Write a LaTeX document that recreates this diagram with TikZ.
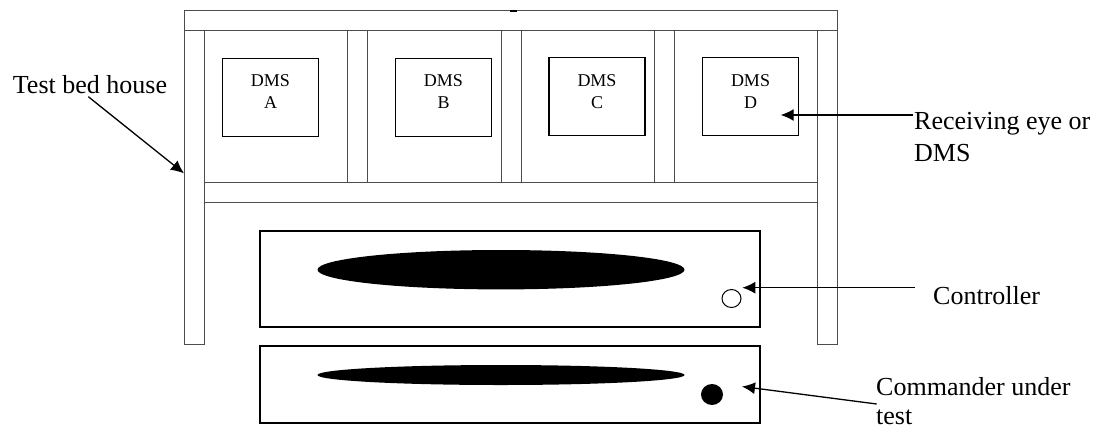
\documentclass[tikz,border=0pt]{standalone}
\usepackage{fontspec}
\setmainfont{Liberation Serif}
\usetikzlibrary{arrows.meta,calc,shapes.geometric}
\begin{document}
\begin{tikzpicture}[x=1pt,y=-1pt,
  frame/.style={draw=black!70,line width=0.9pt},
  dmsbox/.style={draw=black,line width=1.4pt,minimum width=96pt,minimum height=78pt,inner sep=0pt},
  unitbox/.style={draw=black,line width=1.3pt,minimum width=500pt,inner sep=0pt},
  dmstext/.style={inner sep=0pt,align=center,font=\fontsize{18}{22}\selectfont},
  lbl/.style={inner sep=0pt,align=left,font=\fontsize{26}{32}\selectfont},
  lbltight/.style={inner sep=0pt,align=left,font=\fontsize{26}{29}\selectfont},
  pointer/.style={line width=1.3pt,-{Latex[length=13pt,width=12pt]}}]
\useasboundingbox (0,0) rectangle (1097,429);
% test bed house frame
\draw[frame] (184,10.7) rectangle (837,30);
\draw[frame] (184,30) rectangle (204,344.5);
\draw[frame] (817,30) rectangle (837,344.5);
\draw[frame] (204,182) rectangle (817,202);
\draw[frame] (347,30) rectangle (367,182);
\draw[frame] (501,30) rectangle (521,182);
\draw[frame] (654,30) rectangle (674,182);
\draw[line width=2pt] (510,10.7) -- (517,10.7);
% DMS boxes
\node[dmsbox] (dA) at (270.5,97.5) {};
\node[dmsbox] (dB) at (443.5,97.5) {};
\node[dmsbox] (dC) at (597,96.5) {};
\node[dmsbox] (dD) at (750.5,96.5) {};
\node[dmstext,anchor=north] (tA) at (270.5,74) {DMS\\A};
\node[dmstext,anchor=north] (tB) at (443.5,74) {DMS\\B};
\node[dmstext,anchor=north] (tC) at (597,74) {DMS\\C};
\node[dmstext,anchor=north] (tD) at (750.5,74) {DMS\\D};
% controller and commander
\node[unitbox,minimum height=96pt] (ctrl) at (510,279) {};
\node[unitbox,minimum height=77pt] (cmd) at (510,384.5) {};
\fill (501,269.7) ellipse [x radius=183.5pt, y radius=19.7pt];
\fill (501,375) ellipse [x radius=183.5pt, y radius=10pt];
\node[draw,line width=1pt,ellipse,minimum width=19pt,minimum height=18pt,inner sep=0pt] (knob) at (731.5,298.5) {};
\node[fill,ellipse,minimum width=22pt,minimum height=21pt,inner sep=0pt] (dot) at (712,394.5) {};
% labels (base anchor of a two-line node is its last line)
\node[lbl,anchor=base west] (house) at (12.7,93.3) {Test bed house};
\node[lbl,anchor=base west] (recv) at (914,161.5) {Receiving eye or\\DMS};
\node[lbl,anchor=base west] (contr) at (933,304) {Controller};
\node[lbltight,anchor=base west] (comm) at (876,424.5) {Commander under\\test};
% pointers
\coordinate (hTail) at (88.3,96.7);
\coordinate (hTip) at (184,173.3);
\coordinate (rTail) at (913,115);
\coordinate (rTip) at (780.7,115);
\coordinate (cTail) at (915,287.7);
\coordinate (cTip) at (742.3,287.7);
\coordinate (mTail) at (876.7,404);
\coordinate (mTip) at (742,386.5);
\draw[pointer] (hTail) -- (hTip);
\draw[pointer] (rTail) -- (rTip);
\draw[pointer] (cTail) -- (cTip);
\draw[pointer] (mTail) -- (mTip);
\end{tikzpicture}
\end{document}
